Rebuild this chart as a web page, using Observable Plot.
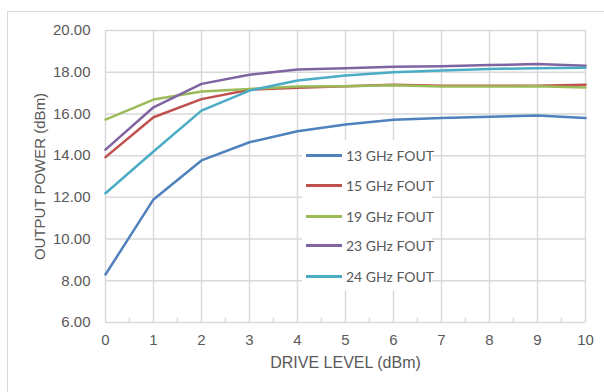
<!DOCTYPE html>
<html><head><meta charset="utf-8">
<script src="https://cdn.jsdelivr.net/npm/d3@7"></script>
<script src="https://cdn.jsdelivr.net/npm/@observablehq/plot@0.6"></script>
<style>
body{margin:0;background:#fff;width:604px;height:392px;overflow:hidden;position:relative;font-family:"Liberation Sans",Arial,sans-serif;}
#frame{position:absolute;left:7px;top:11px;width:640px;height:420px;border:1px solid #d9d9d9;box-sizing:border-box;}
#chart{position:absolute;left:0;top:0;}
#legend{position:absolute;left:302px;top:140px;width:130px;height:150px;background:#fff;}
.item{position:absolute;left:0;height:20px;display:flex;align-items:center;white-space:nowrap;font-family:Lato,"Liberation Sans",sans-serif;font-size:14px;color:#595959;}
.item span.sw{display:inline-block;width:36px;height:3px;margin-left:4px;margin-right:4px;}
</style></head><body>
<div id="frame"></div>
<div id="chart"></div>
<div id="legend"></div>
<script>
const drive = [0,1,2,3,4,5,6,7,8,9,10];
const seriesNames = ["13 GHz FOUT","15 GHz FOUT","19 GHz FOUT","23 GHz FOUT","24 GHz FOUT"];
const colors = ["#4F81BD","#C0504D","#9BBB59","#8064A2","#4BACC6"];
const f13 = [8.30,11.90,13.77,14.64,15.17,15.49,15.72,15.81,15.86,15.92,15.81];
const f15 = [13.93,15.84,16.71,17.16,17.25,17.33,17.40,17.35,17.35,17.35,17.40];
const f19 = [15.73,16.69,17.08,17.20,17.31,17.33,17.38,17.31,17.31,17.33,17.27];
const f23 = [14.29,16.32,17.44,17.88,18.13,18.19,18.26,18.29,18.34,18.39,18.31];
const f24 = [12.20,14.20,16.16,17.12,17.60,17.84,18.00,18.08,18.16,18.19,18.21];
const yTicks = [6,8,10,12,14,16,18,20];
const minorX = [0.5,1.5,2.5,3.5,4.5,5.5,6.5,7.5,8.5,9.5];

const allSeries = [f13,f15,f19,f23,f24];
const data = [];
allSeries.forEach((vals,i)=>vals.forEach((v,j)=>data.push({series:seriesNames[i], x:drive[j], y:v})));

const chart = Plot.plot({
  width:604, height:392,
  marginLeft:105, marginRight:19, marginTop:30, marginBottom:70,
  style:{fontFamily:"'Liberation Sans', Arial, sans-serif", fontSize:"15px", color:"#595959", background:"transparent"},
  x:{domain:[0,10], ticks:drive, label:null},
  y:{domain:[6,20], ticks:yTicks, label:null},
  color:{domain:seriesNames, range:colors},
  marks:[
    Plot.gridX(drive,{stroke:"#d9d9d9", strokeOpacity:1, strokeWidth:1.5}),
    Plot.gridY(yTicks,{stroke:"#d9d9d9", strokeOpacity:1, strokeWidth:1.5}),
    Plot.ruleX(minorX,{y1:6, y2:6.2, stroke:"#d9d9d9", strokeWidth:1.5}),
    Plot.axisX(drive,{tickSize:0, tickPadding:12, fill:"#595959", fontSize:15, label:null}),
    Plot.axisY(yTicks,{tickSize:0, tickPadding:15, fill:"#595959", fontSize:15, tickFormat:d3.format(".2f"), label:null}),
    Plot.line(data,{x:"x", y:"y", z:"series", stroke:"series", strokeWidth:2.5, curve:"linear"}),
    Plot.text(["DRIVE LEVEL (dBm)"],{frameAnchor:"bottom", lineAnchor:"middle", dy:40, fill:"#595959", fontSize:16}),
    Plot.text(["OUTPUT POWER (dBm)"],{frameAnchor:"left", textAnchor:"middle", lineAnchor:"middle", dx:-65, rotate:-90, fill:"#595959", fontSize:15})
  ]
});
document.getElementById("chart").appendChild(chart);

const leg = document.getElementById("legend");
const legY = [5,35,66,95,126];
seriesNames.forEach((n,i)=>{
  const d = document.createElement("div");
  d.className="item";
  d.style.top = (legY[i]) + "px";
  d.innerHTML = `<span class="sw" style="background:${colors[i]}"></span>${n}`;
  leg.appendChild(d);
});
</script>
</body></html>
